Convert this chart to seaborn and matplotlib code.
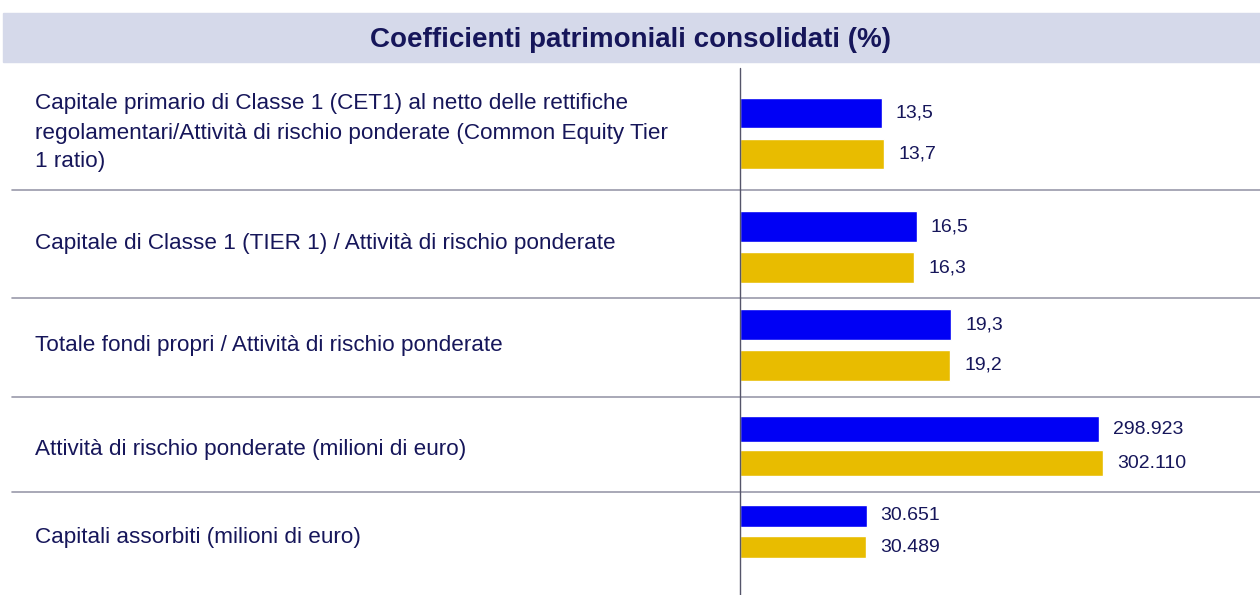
import pandas as pd
import seaborn as sns
import matplotlib.pyplot as plt

# dati
etichette = [
    "Capitale primario di Classe 1 (CET1) al netto delle rettifiche\n"
    "regolamentari/Attività di rischio ponderate (Common Equity Tier\n"
    "1 ratio)",
    "Capitale di Classe 1 (TIER 1) / Attività di rischio ponderate",
    "Totale fondi propri / Attività di rischio ponderate",
    "Attività di rischio ponderate (milioni di euro)",
    "Capitali assorbiti (milioni di euro)",
]
serie = ["periodo_1", "periodo_2"]
valori_blu = [13.5, 16.5, 19.3, 298923, 30651]
valori_oro = [13.7, 16.3, 19.2, 302110, 30489]
percentuale = [True, True, True, False, False]

titolo = "Coefficienti patrimoniali consolidati (%)"

# stile
sns.set_theme(style="white")
plt.rcParams["font.family"] = ["Liberation Sans", "DejaVu Sans"]
blu = "#0000F5"
oro = "#E8BC00"
navy = "#16165A"
grigio = "#9A9AAA"

W, H = 1260, 595
fig = plt.figure(figsize=(W / 100, H / 100), dpi=100)


def fy(py):
    return 1 - py / H


def fx(px):
    return px / W


# barra del titolo
fig.patches.append(plt.Rectangle((fx(3), fy(62)), fx(1257), 49 / H,
                                 transform=fig.transFigure, color="#D5D9EA", zorder=0))
fig.text(0.5, fy(40), titolo, ha="center", va="center", fontsize=20,
         fontweight="bold", color=navy)

# aree delle righe (pixel): top/bottom area barre, centro testo, scala x
righe_px = [(92.5, 174.5), (206, 288), (304, 386), (412, 480), (500.5, 562.5)]
testo_y = [133, 244, 345, 450, 537]
x_max = [49.4, 48.6, 47.5, 432600, 125700]
separatori = [190, 298, 397, 492]

x0, x1 = 740, 1260
for i in range(len(etichette)):
    top, bot = righe_px[i]
    ax = fig.add_axes([fx(x0), fy(bot), fx(x1 - x0), (bot - top) / H])
    df = pd.DataFrame({"serie": serie, "valore": [valori_blu[i], valori_oro[i]]})
    sns.barplot(data=df, x="valore", y="serie", hue="serie",
                palette=[blu, oro], width=0.74, legend=False, ax=ax, saturation=1)
    ax.set_xlim(0, x_max[i])
    ax.set_ylim(1.5, -0.5)
    ax.axis("off")
    for c in ax.containers:
        if percentuale[i]:
            lab = [f"{v:.1f}".replace(".", ",") for v in c.datavalues]
        else:
            lab = [f"{v:,.0f}".replace(",", ".") for v in c.datavalues]
        ax.bar_label(c, labels=lab, padding=10, fontsize=14, color=navy)
    fig.text(fx(35), fy(testo_y[i]), etichette[i], ha="left", va="center",
             fontsize=16.2, color=navy, linespacing=1.5)

for s in separatori:
    fig.add_artist(plt.Line2D([fx(12), 1], [fy(s), fy(s)], color=grigio, lw=1.2))

# asse verticale
fig.add_artist(plt.Line2D([fx(740), fx(740)], [fy(68), 0], color="#55556A", lw=1))

fig.savefig("out.png", dpi=100)
